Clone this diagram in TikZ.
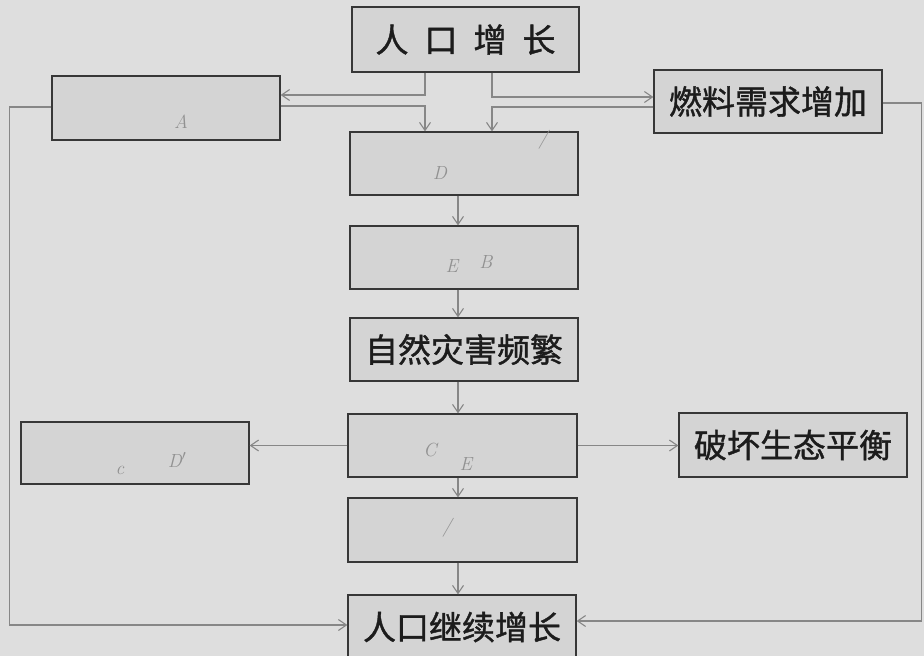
\documentclass[tikz,border=0pt]{standalone}
\usepackage{fontspec}
\newfontfamily\cjk[FakeBold=1.2]{Noto Sans CJK SC}
\usetikzlibrary{arrows.meta}
\definecolor{bgcol}{RGB}{222,222,222}
\definecolor{boxfill}{RGB}{212,212,212}
\definecolor{boxline}{RGB}{55,55,55}
\definecolor{conncol}{RGB}{135,135,135}
\definecolor{txtcol}{RGB}{28,28,28}
\definecolor{pencil}{RGB}{145,145,145}
\tikzset{
  box/.style={draw=boxline, fill=boxfill, line width=1.3pt, inner sep=0pt,
    minimum width=228pt, minimum height=63pt, text=txtcol,
    font=\cjk\fontsize{33}{33}\selectfont},
  conn/.style={draw=conncol, line width=1.1pt},
  arr/.style={conn, -{Straight Barb[length=8pt,width=11pt,line width=1.1pt]}},
  hand/.style={text=pencil, font=\itshape\fontsize{19}{19}\selectfont, inner sep=0pt}
}
\begin{document}
\begin{tikzpicture}[x=1pt,y=-1pt]
\fill[bgcol] (0,0) rectangle (924,656);
\useasboundingbox (0,0) rectangle (924,656);

\node[box, minimum width=227pt, minimum height=65pt] (top) at (465.5,39.5) {人\hspace{16pt}口\hspace{16pt}增\hspace{16pt}长};
\node[box, minimum height=64pt] (A) at (166,108) {};
\node[box] (fuel) at (768,101.5) {燃料需求增加};
\node[box] (D) at (464,163.5) {};
\node[box] (B) at (464,257.5) {};
\node[box] (nat) at (464,349.5) {自然灾害频繁};
\node[box, minimum width=229pt] (C) at (462.5,445.5) {};
\node[box, minimum height=62pt] (L) at (135,453) {};
\node[box, minimum height=64pt] (R) at (793,445) {破坏生态平衡};
\node[box, minimum width=229pt, minimum height=64pt] (F) at (462.5,530) {};
\node[box, minimum height=64pt] (fin) at (462,627) {人口继续增长};

% pencil marks
\node[hand] (hA) at (181,122) {A};
\node[hand] (hD) at (440,173) {D};
\node[hand] (hD2) at (543,140) {/};
\node[hand] (hE) at (452,266) {E};
\node[hand] (hB) at (486,262) {B};
\node[hand] (hC1) at (120,470) {c};
\node[hand] (hD3) at (177,460) {D$'$};
\node[hand] (hC) at (430,450) {C};
\node[hand] (hE2) at (466,464) {E};
\node[hand] (hF) at (447,528) {/};

% connectors from top
\draw[arr] ([xshift=-40.5pt]top.south) |- ([yshift=13pt]A.east);
\draw[arr] ([xshift=26.5pt]top.south) |- ([yshift=4.5pt]fuel.west);
\draw[arr] ([yshift=2pt]A.east) -| ([xshift=-39pt]D.north);
\draw[arr] ([yshift=-5.5pt]fuel.west) -| ([xshift=28pt]D.north);
% side loops
\draw[arr] ([yshift=-1.5pt]fuel.east) -- ++(39,0) |- ([yshift=6pt]fin.east);
\draw[arr] ([yshift=1pt]A.west) -- ++(-42,0) |- ([yshift=2pt]fin.west);
% main chain
\draw[arr] ([xshift=-6pt]D.south) -- ([xshift=-6pt]B.north);
\draw[arr] ([xshift=-6pt]B.south) -- ([xshift=-6pt]nat.north);
\draw[arr] ([xshift=-6pt]nat.south) -- ([xshift=-4.5pt]C.north);
\draw[arr] ([xshift=-4.5pt]C.south) -- ([xshift=-4.5pt]F.north);
\draw[arr] ([xshift=-4.5pt]F.south) -- ([xshift=-4pt]fin.north);
% branches
\draw[arr] (C.west) -- (C.west -| L.east);
\draw[arr] (C.east) -- (C.east -| R.west);
\end{tikzpicture}
\end{document}
